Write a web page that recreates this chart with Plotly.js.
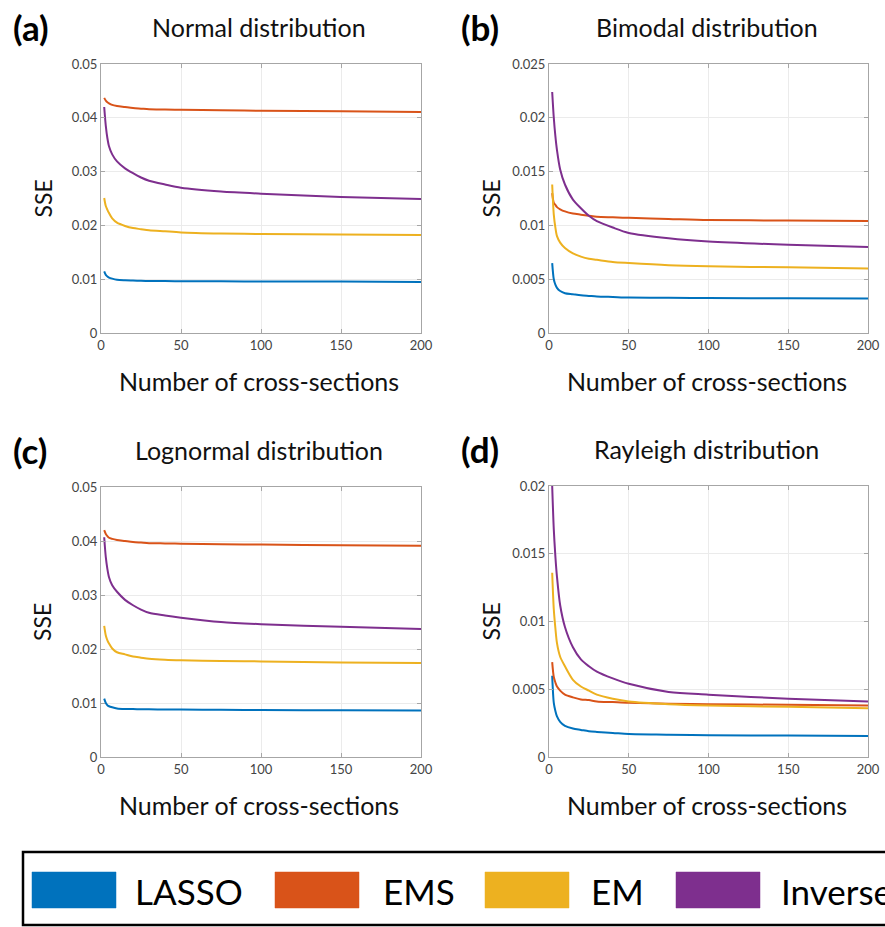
<!DOCTYPE html>
<html>
<head>
<meta charset="utf-8">
<script src="https://cdn.plot.ly/plotly-3.0.1.min.js"></script>
<style>html,body{margin:0;padding:0;background:#fff;}#chart{width:885px;height:927px;}</style>
</head>
<body>
<div id="chart"></div>
<script>
// ---------- data ----------
var seriesNames = ["LASSO", "EMS", "EM", "Inverse"];
var seriesColors = ["#0072BD", "#D95319", "#EDB120", "#7E2F8E"];
var crossSections = [2, 3, 4, 5, 7, 10, 15, 20, 25, 30, 40, 50, 75, 100, 150, 200];

var panelLabels = ["(a)", "(b)", "(c)", "(d)"];
var panelTitles = ["Normal distribution", "Bimodal distribution", "Lognormal distribution", "Rayleigh distribution"];
var yMax = [0.05, 0.025, 0.05, 0.02];
var yTickVals = [
  [0, 0.01, 0.02, 0.03, 0.04, 0.05],
  [0, 0.005, 0.01, 0.015, 0.02, 0.025],
  [0, 0.01, 0.02, 0.03, 0.04, 0.05],
  [0, 0.005, 0.01, 0.015, 0.02]
];
var yTickText = [
  ["0", "0.01", "0.02", "0.03", "0.04", "0.05"],
  ["0", "0.005", "0.01", "0.015", "0.02", "0.025"],
  ["0", "0.01", "0.02", "0.03", "0.04", "0.05"],
  ["0", "0.005", "0.01", "0.015", "0.02"]
];
var xTickVals = [0, 50, 100, 150, 200];

// (a) Normal
var normalLASSO   = [0.01145, 0.0108, 0.0105, 0.0103, 0.0101, 0.0099, 0.0098, 0.00975, 0.0097, 0.00968, 0.00965, 0.00962, 0.0096, 0.00958, 0.00955, 0.0095];
var normalEMS     = [0.0437, 0.0432, 0.0429, 0.0427, 0.0424, 0.0422, 0.0420, 0.0418, 0.0417, 0.0416, 0.04155, 0.0415, 0.0414, 0.0413, 0.0412, 0.0411];
var normalEM      = [0.0251, 0.0236, 0.0229, 0.0223, 0.0213, 0.0205, 0.0199, 0.0195, 0.0193, 0.0191, 0.0189, 0.0187, 0.0185, 0.0184, 0.0183, 0.0182];
var normalInverse = [0.0420, 0.0385, 0.0362, 0.0347, 0.0332, 0.0319, 0.0306, 0.0297, 0.0289, 0.0283, 0.0276, 0.0270, 0.0263, 0.0259, 0.0253, 0.0249];
// (b) Bimodal
var bimodalLASSO   = [0.0065, 0.0050, 0.0045, 0.0042, 0.0039, 0.0037, 0.0036, 0.0035, 0.00345, 0.0034, 0.00335, 0.0033, 0.00328, 0.00325, 0.00322, 0.0032];
var bimodalEMS     = [0.0130, 0.0121, 0.0119, 0.0117, 0.0115, 0.0113, 0.0111, 0.0110, 0.0109, 0.0108, 0.01075, 0.0107, 0.0106, 0.0105, 0.01045, 0.0104];
var bimodalEM      = [0.0138, 0.0110, 0.0098, 0.0090, 0.0084, 0.0079, 0.0074, 0.0071, 0.0069, 0.0068, 0.0066, 0.0065, 0.0063, 0.0062, 0.0061, 0.0060];
var bimodalInverse = [0.0224, 0.0200, 0.0183, 0.0170, 0.0152, 0.0138, 0.0124, 0.0116, 0.0109, 0.0104, 0.0098, 0.0093, 0.0088, 0.0085, 0.0082, 0.0080];
// (c) Lognormal
var lognormalLASSO   = [0.0108, 0.0100, 0.0096, 0.0094, 0.0092, 0.0090, 0.0089, 0.00888, 0.00885, 0.00882, 0.0088, 0.00878, 0.00875, 0.0087, 0.00865, 0.0086];
var lognormalEMS     = [0.0420, 0.0413, 0.0409, 0.0406, 0.0404, 0.0402, 0.0400, 0.0398, 0.0397, 0.0396, 0.03955, 0.0395, 0.0394, 0.03935, 0.0392, 0.0391];
var lognormalEM      = [0.0243, 0.0225, 0.0216, 0.0210, 0.0201, 0.0194, 0.0190, 0.0186, 0.0184, 0.0182, 0.0180, 0.0179, 0.0178, 0.0177, 0.0175, 0.0174];
var lognormalInverse = [0.0407, 0.0370, 0.0348, 0.0333, 0.0318, 0.0306, 0.0291, 0.0281, 0.0273, 0.0267, 0.0262, 0.0258, 0.0250, 0.0246, 0.0241, 0.0237];
// (d) Rayleigh
var rayleighLASSO   = [0.0060, 0.0040, 0.0034, 0.0030, 0.0026, 0.0023, 0.0021, 0.0020, 0.0019, 0.00185, 0.00178, 0.0017, 0.00165, 0.0016, 0.00158, 0.00155];
var rayleighEMS     = [0.0070, 0.0059, 0.0055, 0.0052, 0.0049, 0.0046, 0.0044, 0.00425, 0.0042, 0.0041, 0.00405, 0.0040, 0.00393, 0.0039, 0.00385, 0.0038];
var rayleighEM      = [0.0136, 0.0109, 0.0095, 0.0084, 0.0074, 0.0067, 0.0057, 0.0052, 0.0049, 0.0046, 0.0043, 0.0041, 0.0039, 0.0038, 0.0037, 0.0036];
var rayleighInverse = [0.0200, 0.0168, 0.0148, 0.0133, 0.0112, 0.0096, 0.0081, 0.0072, 0.0067, 0.0063, 0.0058, 0.0054, 0.0048, 0.0046, 0.0043, 0.0041];

var panelData = [
  [normalLASSO, normalEMS, normalEM, normalInverse],
  [bimodalLASSO, bimodalEMS, bimodalEM, bimodalInverse],
  [lognormalLASSO, lognormalEMS, lognormalEM, lognormalInverse],
  [rayleighLASSO, rayleighEMS, rayleighEM, rayleighInverse]
];

// ---------- layout helpers ----------
var W = 885, H = 927;
function px(x) { return x / W; }
function py(y) { return 1 - y / H; }
// plot boxes in pixels [left, right, top, bottom]
var boxes = [
  [101, 421, 64, 333],
  [549, 868, 64, 333],
  [101, 421, 487, 757],
  [549, 868, 486, 757]
];

var FONT = "Lato, 'Open Sans', sans-serif";
var traces = [];
var layout = {
  width: W, height: H,
  margin: {l: 0, r: 0, t: 0, b: 0},
  paper_bgcolor: "#ffffff",
  plot_bgcolor: "#ffffff",
  showlegend: false,
  font: {family: FONT, color: "#000"},
  annotations: [],
  shapes: []
};

for (var p = 0; p < 4; p++) {
  var sfx = p === 0 ? "" : String(p + 1);
  var b = boxes[p];
  for (var s = 0; s < 4; s++) {
    traces.push({
      type: "scatter", mode: "lines",
      x: crossSections, y: panelData[p][s],
      name: seriesNames[s],
      line: {color: seriesColors[s], width: 2, shape: "spline", smoothing: 0.8},
      xaxis: "x" + sfx, yaxis: "y" + sfx,
      hoverinfo: "x+y+name"
    });
  }
  var axCommon = {
    showline: true, mirror: "ticks", linecolor: "#a6a6a6", linewidth: 1,
    showgrid: true, gridcolor: "#ebebeb", gridwidth: 1,
    zeroline: false,
    ticks: "inside", ticklen: 4, tickcolor: "#a6a6a6",
    tickfont: {family: FONT, size: 13, color: "#444"}
  };
  layout["xaxis" + sfx] = Object.assign({}, axCommon, {
    domain: [px(b[0]), px(b[1])],
    anchor: "y" + sfx,
    range: [0, 200], tickvals: xTickVals, ticktext: xTickVals.map(String)
  });
  layout["yaxis" + sfx] = Object.assign({}, axCommon, {
    domain: [py(b[3]), py(b[2])],
    anchor: "x" + sfx,
    range: [0, yMax[p]], tickvals: yTickVals[p], ticktext: yTickText[p]
  });
  var cx = (b[0] + b[1]) / 2;
  // panel title
  layout.annotations.push({
    xref: "paper", yref: "paper", x: px(cx - 2), y: py(b[2] - 37),
    xanchor: "center", yanchor: "middle", showarrow: false,
    text: panelTitles[p], font: {family: FONT, size: 25, color: "#111"}
  });
  // panel label
  layout.annotations.push({
    xref: "paper", yref: "paper", x: px(b[0] - 90), y: py(b[2] - 37),
    xanchor: "left", yanchor: "middle", showarrow: false,
    text: "<b>" + panelLabels[p] + "</b>", font: {family: FONT, size: 35, color: "#000"}
  });
  // x title
  layout.annotations.push({
    xref: "paper", yref: "paper", x: px(cx - 2), y: py(b[3] + 48),
    xanchor: "center", yanchor: "middle", showarrow: false,
    text: "Number of cross-sections", font: {family: FONT, size: 25, color: "#111"}
  });
  // y title
  layout.annotations.push({
    xref: "paper", yref: "paper", x: px(b[0] - 59), y: py((b[2] + b[3]) / 2),
    xanchor: "center", yanchor: "middle", showarrow: false, textangle: -90,
    text: "SSE", font: {family: FONT, size: 23, color: "#111"}
  });
}

// ---------- legend box ----------
layout.shapes.push({
  type: "rect", xref: "paper", yref: "paper",
  x0: px(23), x1: px(900), y0: py(925), y1: py(852),
  line: {color: "#000", width: 2.5}, fillcolor: "rgba(0,0,0,0)"
});
var swatchX = [32, 275, 485, 676];
var swatchW = 84;
var labelX = [133, 381, 589, 779];
for (var k = 0; k < 4; k++) {
  layout.shapes.push({
    type: "rect", xref: "paper", yref: "paper",
    x0: px(swatchX[k]), x1: px(swatchX[k] + swatchW), y0: py(908), y1: py(872),
    line: {color: seriesColors[k], width: 0.5}, fillcolor: seriesColors[k]
  });
  layout.annotations.push({
    xref: "paper", yref: "paper", x: px(labelX[k]), y: py(891),
    xanchor: "left", yanchor: "middle", showarrow: false,
    text: seriesNames[k], font: {family: FONT, size: 35, color: "#000"}
  });
}

Plotly.newPlot("chart", traces, layout, {displayModeBar: false, staticPlot: true});
</script>
</body>
</html>
